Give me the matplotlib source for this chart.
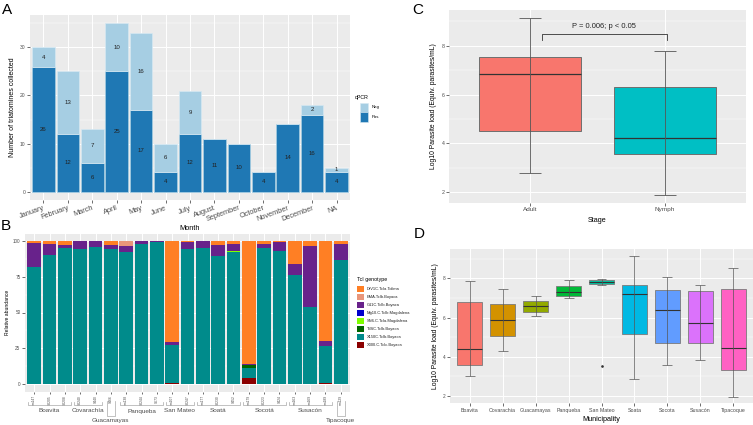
import matplotlib
matplotlib.use('Agg')
import matplotlib.pyplot as plt
from matplotlib.patches import Rectangle
from matplotlib.lines import Line2D
import matplotlib.transforms as mtrans
import numpy as np

plt.rcParams['font.family'] = ['Liberation Sans', 'DejaVu Sans']

W, H = 753, 425

# ---------------- data ----------------
months = ['January', 'February', 'March', 'April', 'May', 'June', 'July',
          'August', 'September', 'October', 'November', 'December', 'NA']
pos_counts = [26, 12, 6, 25, 17, 4, 12, 11, 10, 4, 14, 16, 4]
neg_counts = [4, 13, 7, 10, 16, 6, 9, 0, 0, 0, 0, 2, 1]

samples = ['sm147', 'S0205', 'S0208', 'S0240', 'S440', 'S466', 'sm138', 'S0244', 'S673',
           'sm107', 'S0247', 'sm177', 'S0230', 'S452', 'sm179', 'S0223', 'S424',
           'sm163', 'sm169', 'sm189', 'sm129']
group_names = ['Boavita', 'Covarachía', 'Guacamayas', 'Panqueba', 'San Mateo',
               'Soatá', 'Socotá', 'Susacón', 'Tipacoque']
group_sizes = [3, 2, 1, 3, 2, 3, 3, 3, 1]

genotypes = ['DrV1C.TcIa.Tolima', 'EMA.TcIb.Boyaca', 'G11C.TcIb.Boyaca',
             'Mg10.C.TcIb.Magdalena', 'SN6.C.TcIa.Magdalena', 'TdSC.TcIb.Boyaca',
             'X150C.TcIb.Boyaca', 'X300.C.TcIc.Boyaca']
genotype_colors = ['#FF7F24', '#E9967A', '#68228B', '#0000CD', '#7FFF00',
                   '#006400', '#008B8B', '#8B0000']
ab_DrV1C = [1.5, 2.4, 2.9, 0.5, 0.5, 3.0, 0.0, 0.5, 0.2, 70.8, 1.0, 0.5, 3.0, 2.4,
            86.0, 2.3, 0.7, 16.4, 3.5, 69.8, 2.0]
ab_EMA = [0, 0, 0, 0, 0, 0, 4.0, 0, 0, 0, 0, 0, 0, 0, 0, 0, 0, 0, 0, 0, 0]
ab_G11C = [16.5, 7.6, 2.2, 5.2, 4.1, 2.8, 3.7, 1.8, 0.8, 1.6, 4.5, 4.9, 7.5, 4.6,
           0.5, 3.1, 6.3, 7.7, 42.5, 3.6, 11.6]
ab_Mg10 = [0] * 21
ab_SN6 = [0, 0, 0, 0, 0, 0, 0.5, 0, 0, 0, 0, 0, 0, 1.2, 0, 0, 0, 0, 0, 0, 0]
ab_TdSC = [0, 0, 0, 0, 0, 0, 0, 0, 0, 0, 0.3, 0, 0, 0, 1.8, 0, 0, 0, 0, 0, 0]
ab_X150 = [82.0, 90.0, 94.9, 94.3, 95.4, 94.2, 91.8, 97.7, 99.0, 27.0, 94.2, 94.6,
           89.5, 91.8, 7.0, 94.3, 93.0, 75.9, 54.0, 26.0, 86.4]
ab_X300 = [0, 0, 0, 0, 0, 0, 0, 0, 0, 0.6, 0, 0, 0, 0, 4.7, 0.3, 0, 0, 0, 0.6, 0]

stages = ['Adult', 'Nymph']
stage_low = [2.78, 1.89]
stage_q1 = [4.50, 3.57]
stage_med = [6.85, 4.21]
stage_q3 = [7.56, 6.30]
stage_high = [9.13, 7.80]
stage_colors = ['#F8766D', '#00BFC4']
p_text = 'P = 0.006; p < 0.05'

municipalities = ['Boavita', 'Covarachia', 'Guacamayas', 'Panqueba', 'San Mateo',
                  'Soata', 'Socota', 'Susacón', 'Tipacoque']
muni_low = [3.00, 4.27, 6.06, 6.98, 7.68, 2.84, 3.57, 3.81, 1.91]
muni_q1 = [3.55, 5.05, 6.30, 7.12, 7.69, 5.14, 4.68, 4.71, 3.30]
muni_med = [4.37, 5.87, 6.57, 7.30, 7.83, 7.18, 6.38, 5.70, 4.44]
muni_q3 = [6.79, 6.67, 6.84, 7.61, 7.90, 7.64, 7.39, 7.35, 7.47]
muni_high = [7.87, 7.47, 7.08, 7.92, 7.95, 9.16, 8.09, 7.68, 8.55]
muni_colors = ['#F8766D', '#D39200', '#93AA00', '#00BA38', '#00C19F',
               '#00B9E3', '#619CFF', '#DB72FB', '#FF61C3']
outlier_muni = [5]
outlier_val = [3.53]

# ---------------- helpers ----------------
fig = plt.figure(figsize=(W / 100, H / 100), dpi=100)


def rect(x0, y0, x1, y1):
    return [x0 / W, 1 - y1 / H, (x1 - x0) / W, (y1 - y0) / H]


def fx(x):
    return x / W


def fy(y):
    return 1 - y / H


def gg_axes(ax):
    ax.set_facecolor('#EBEBEB')
    for s in ax.spines.values():
        s.set_visible(False)
    ax.grid(True, which='major', color='white', lw=0.7)
    ax.grid(True, which='minor', color='white', lw=0.35)
    ax.set_axisbelow(True)
    ax.tick_params(which='major', length=2, width=0.5, color='#333333',
                   labelcolor='#4D4D4D', pad=1.2)
    ax.tick_params(which='minor', length=0)


# ---------------- Panel A ----------------
axA = fig.add_axes(rect(30, 15, 350, 200))
gg_axes(axA)
x = np.arange(1, len(months) + 1)
axA.bar(x, pos_counts, width=0.92, color='#1F78B4', edgecolor='#A6CEE3', lw=0.5)
axA.bar(x, neg_counts, bottom=pos_counts, width=0.92, color='#A6CEE3',
        edgecolor='#D6E8F2', lw=0.5)
for xi, p, n in zip(x, pos_counts, neg_counts):
    if p > 0:
        axA.text(xi, p / 2, str(p), ha='center', va='center', fontsize=4.4, color='#222222')
    if n > 0:
        axA.text(xi, p + n / 2, str(n), ha='center', va='center', fontsize=4.4, color='#222222')
axA.set_xlim(0.45, 13.55)
axA.set_ylim(-1.75, 36.75)
axA.set_yticks([0, 10, 20, 30])
axA.set_yticks([5, 15, 25, 35], minor=True)
axA.set_xticks(x)
axA.set_xticklabels(months, rotation=20, ha='right', rotation_mode='anchor', fontsize=5.3)
axA.tick_params(axis='y', labelsize=3.6)
axA.set_ylabel('Number of triatomines collected', fontsize=5, labelpad=3)
fig.text(fx(190), fy(228), 'Month', ha='center', va='center', fontsize=5.3)

# legend A
fig.text(fx(355), fy(97), 'qPCR', ha='left', va='center', fontsize=3.8)
for i, (lab, col) in enumerate([('Neg', '#A6CEE3'), ('Pos', '#1F78B4')]):
    y0 = 102.5 + i * 10
    fig.add_artist(Rectangle((fx(360), fy(y0 + 9.3)), 8.3 / W, 9.3 / H,
                             transform=fig.transFigure, facecolor=col,
                             edgecolor='#D6E8F2', lw=0.4))
    fig.text(fx(372), fy(y0 + 4.8), lab, ha='left', va='center', fontsize=3.2)

# ---------------- Panel B ----------------
axB = fig.add_axes(rect(25, 233.5, 350, 391.5))
gg_axes(axB)
xb = np.arange(1, len(samples) + 1)
stack_order = [ab_X300, ab_X150, ab_TdSC, ab_SN6, ab_Mg10, ab_G11C, ab_EMA, ab_DrV1C]
stack_cols = [genotype_colors[7], genotype_colors[6], genotype_colors[5], genotype_colors[4],
              genotype_colors[3], genotype_colors[2], genotype_colors[1], genotype_colors[0]]
bottom = np.zeros(len(samples))
for vals, col in zip(stack_order, stack_cols):
    vals = np.array(vals, dtype=float)
    axB.bar(xb, vals, bottom=bottom, width=0.88, color=col, edgecolor='none')
    bottom += vals
axB.set_xlim(0.4, 21.6)
axB.set_ylim(-5, 105)
axB.set_yticks([0, 25, 50, 75, 100])
axB.set_yticks([12.5, 37.5, 62.5, 87.5], minor=True)
axB.set_xticks(xb)
axB.set_xticklabels(samples, rotation=90, fontsize=2.4)
axB.tick_params(axis='y', labelsize=3.3)
axB.tick_params(axis='x', length=1.5)
axB.set_ylabel('Relative abundance', fontsize=3.6, labelpad=2)

trB = mtrans.blended_transform_factory(axB.transData, fig.transFigure)
start = 1
for name, n in zip(group_names, group_sizes):
    end = start + n - 1
    if n > 1:
        xs = [start - 0.4, start - 0.4, end + 0.4, end + 0.4]
        ys = [fy(402), fy(405), fy(405), fy(402)]
        fig.add_artist(Line2D(xs, ys, transform=trB, color='#A8A8A8', lw=0.5))
        axB.text((start + end) / 2, fy(411), name, transform=trB, ha='center',
                 va='center', fontsize=4.6, color='#4D4D4D')
    else:
        xs = [start - 0.28, start - 0.28, start + 0.28, start + 0.28]
        ys = [fy(401), fy(415.5), fy(415.5), fy(401)]
        fig.add_artist(Line2D(xs, ys, transform=trB, color='#A8A8A8', lw=0.5))
        axB.text(start, fy(420.5), name, transform=trB, ha='center',
                 va='center', fontsize=4.6, color='#4D4D4D')
    start = end + 1

# legend B
fig.text(fx(357), fy(280), 'TcI genotype', ha='left', va='center', fontsize=3.8)
for i, (lab, col) in enumerate(zip(genotypes, genotype_colors)):
    yc = 289 + i * 8
    fig.add_artist(Rectangle((fx(357), fy(yc + 3.3)), 6.8 / W, 6.6 / H,
                             transform=fig.transFigure, facecolor=col, edgecolor='none'))
    fig.text(fx(367), fy(yc), lab, ha='left', va='center', fontsize=2.9, color='#222222')

# ---------------- Panel C ----------------
axC = fig.add_axes(rect(449, 10, 746, 203))
gg_axes(axC)
xc = np.arange(1, len(stages) + 1)
axC.bar(xc, np.array(stage_q3) - np.array(stage_q1), bottom=stage_q1, width=0.75,
        color=stage_colors, edgecolor='#6E6E6E', lw=0.7)
axC.hlines(stage_med, xc - 0.375, xc + 0.375, color='#333333', lw=0.9)
axC.vlines(xc, stage_low, stage_high, color='#555555', lw=0.6)
axC.hlines(stage_low, xc - 0.085, xc + 0.085, color='#555555', lw=0.6)
axC.hlines(stage_high, xc - 0.085, xc + 0.085, color='#555555', lw=0.6)
axC.plot([1.087, 1.087, 2.015, 2.015], [8.24, 8.48, 8.48, 8.24], color='#333333', lw=0.6)
axC.text(1.55, 8.79, p_text, ha='center', va='center', fontsize=5.4, color='#222222')
axC.set_xlim(0.4, 2.6)
axC.set_ylim(1.56, 9.47)
axC.set_yticks([2, 4, 6, 8])
axC.set_yticks([3, 5, 7, 9], minor=True)
axC.set_xticks(xc)
axC.set_xticklabels(stages, fontsize=4.6)
axC.tick_params(axis='y', labelsize=3.8)
axC.set_ylabel('Log10 Parasite load (Equiv. parasites/mL)', fontsize=4.9, labelpad=3)
axC.set_xlabel('Stage', fontsize=5.2, labelpad=3)

# ---------------- Panel D ----------------
axD = fig.add_axes(rect(450, 249.3, 753, 403.3))
gg_axes(axD)
xd = np.arange(1, len(municipalities) + 1)
axD.bar(xd, np.array(muni_q3) - np.array(muni_q1), bottom=muni_q1, width=0.75,
        color=muni_colors, edgecolor='#7A7A7A', lw=0.6)
axD.hlines(muni_med, xd - 0.375, xd + 0.375, color='#333333', lw=0.8)
axD.vlines(xd, muni_low, muni_high, color='#555555', lw=0.5)
axD.hlines(muni_low, xd - 0.15, xd + 0.15, color='#555555', lw=0.5)
axD.hlines(muni_high, xd - 0.15, xd + 0.15, color='#555555', lw=0.5)
axD.scatter(outlier_muni, outlier_val, s=0.8, color='#333333', zorder=5)
axD.set_xlim(0.4, 9.6)
axD.set_ylim(1.61, 9.49)
axD.set_yticks([2, 4, 6, 8])
axD.set_yticks([3, 5, 7, 9], minor=True)
axD.set_xticks(xd)
axD.set_xticklabels(municipalities, fontsize=3.8)
axD.tick_params(axis='y', labelsize=3.4)
axD.set_ylabel('Log10 Parasite load (Equiv. parasites/mL)', fontsize=4.9, labelpad=3)
axD.set_xlabel('Municipality', fontsize=5.2, labelpad=2)

# ---------------- panel letters ----------------
for lab, px, py in [('A', 2, 13.5), ('B', 1, 230.5), ('C', 412, 14.5), ('D', 414, 238)]:
    fig.text(fx(px), fy(py), lab, ha='left', va='baseline', fontsize=11)

fig.savefig('out.png', dpi=100)
